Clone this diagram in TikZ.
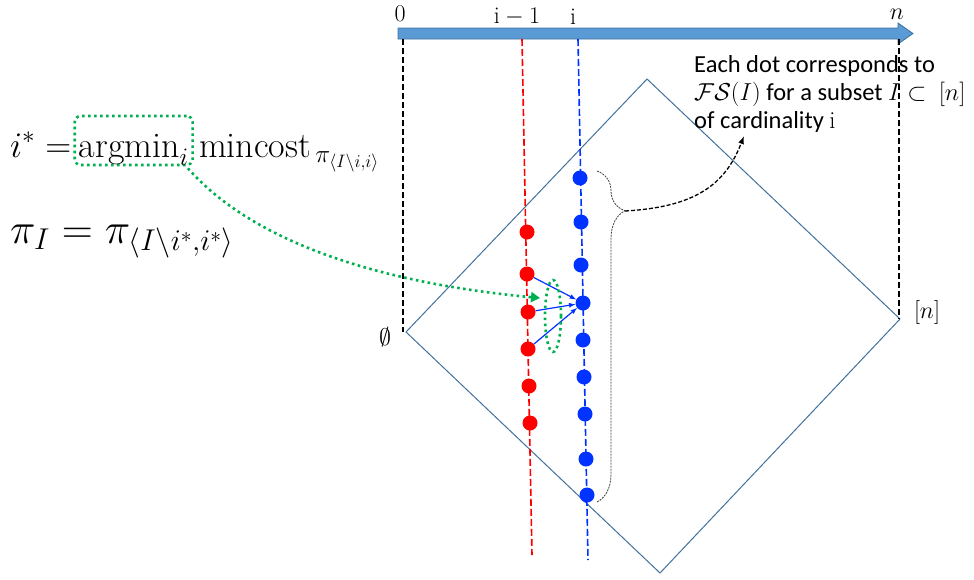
\RequirePackage{fix-cm}
\documentclass[tikz,border=0pt]{standalone}
\usepackage{amsmath}
\usepackage{fontspec}
\newfontfamily\calibri{Carlito}
\usetikzlibrary{calc}
\usetikzlibrary{arrows.meta}
\usetikzlibrary{decorations.pathreplacing}
\definecolor{barblue}{HTML}{5B9BD5}
\definecolor{barline}{HTML}{41719C}
\definecolor{dotred}{HTML}{FF0000}
\definecolor{dotblue}{HTML}{0033FF}
\definecolor{dotgreen}{HTML}{00B050}

\begin{document}
\begin{tikzpicture}[x=1pt, y=-1pt,
        reddot/.style={circle, fill=dotred, inner sep=0pt, minimum size=15pt},
        bluedot/.style={circle, fill=dotblue, inner sep=0pt, minimum size=15pt},
        level/.style={line width=1.6pt, dash pattern=on 7pt off 3pt},
        bound/.style={black, line width=1.6pt, dash pattern=on 6pt off 3pt},
        paths/.style={->, dotblue, line width=1.2pt, -latex},
        greendots/.style={dotgreen, line width=2.6pt, dash pattern=on 2.6pt off 3.4pt},
        formula/.style={inner sep=0pt, font=\fontsize{36}{42}\selectfont},
        bigformula/.style={inner sep=0pt, font=\fontsize{43}{50}\selectfont},
        tick/.style={inner sep=0pt, font=\fontsize{24}{28}\selectfont}
    ]
    \useasboundingbox (0,0) rectangle (974,579);

        % Time axis
        \filldraw[fill=barblue, draw=barline, line width=0.8pt] (398,28) -- (898,28) -- (898,23) -- (913,33.5) -- (898,44) -- (898,39) -- (398,39) -- cycle;
        \node[tick] (lab0) at (400,14) {$0$};
        \node[tick] (labprev) at (517,17) {$\mathrm{i}-1$};
        \node[tick] (labi) at (573,17) {$\mathrm{i}$};
        \node[tick] (labn) at (897,14) {$n$};

        % Lattice (diamond)
        \coordinate (empty) at (406,332);
        \coordinate (top) at (647,79);
        \coordinate (full) at (900,319);
        \coordinate (bottom) at (660,573);
        \draw[barline, line width=1pt] (empty) -- (top) -- (full) -- (bottom) -- cycle;
        \node[tick] (emptylab) at (385,337) {$\emptyset$};
        \node[tick] (fulllab) at (927,312) {$[n]$};

        \coordinate (t0) at (403,39);
        \coordinate (tn) at (899,39);
        \draw[bound] (t0) -- (t0 |- empty);
        \draw[bound] (tn) -- (tn |- full);

        % Levels i-1 and i
        \coordinate (prevtop) at (522,39);
        \coordinate (prevend) at (532,555);
        \coordinate (curtop) at (578,39);
        \coordinate (curend) at (588,560);
        \draw[level, dotred] (prevtop) -- (prevend);
        \draw[level, dotblue] (curtop) -- (curend);

        \node[reddot] (r1) at (527,232) {};
        \node[reddot] (r2) at (527,274) {};
        \node[reddot] (r3) at (528,312) {};
        \node[reddot] (r4) at (528,349) {};
        \node[reddot] (r5) at (529,386) {};
        \node[reddot] (r6) at (530,423) {};

        \node[bluedot] (b1) at (580,178) {};
        \node[bluedot] (b2) at (581,222) {};
        \node[bluedot] (b3) at (581,265) {};
        \node[bluedot] (b4) at (583,303) {};
        \node[bluedot] (b5) at (583,340) {};
        \node[bluedot] (b6) at (584,377) {};
        \node[bluedot] (b7) at (585,414) {};
        \node[bluedot] (b8) at (586,459) {};
        \node[bluedot] (b9) at (587,495) {};

        % Paths into the chosen dot
        \draw[paths] (r2) -- (b4);
        \draw[paths] (r3) -- (b4);
        \draw[paths] (r4) -- (b4);
        \draw[greendots] (553,316) ellipse [x radius=8, y radius=36];

        % Formulas
        \node[formula, anchor=base west] (istar) at (10,157) {$i^*=$};
        \node[formula, anchor=base west, greendots, draw, text=black, rounded corners=6pt,
            inner xsep=4pt, inner ysep=4pt, text height=37pt, text depth=4pt] (argmin) at ($(istar.base east)+(2,0)$) {$\mathrm{argmin}_i$};
        \node[formula, anchor=base west] (mincost) at ($(argmin.base east)+(5,0)$) {$\mathrm{mincost}_{\,\pi_{\langle I\setminus i,i\rangle}}$};
        \node[bigformula, anchor=base west] (piI) at (10,243) {$\pi_I=\pi_{\langle I\setminus i^*,i^*\rangle}$};

        \coordinate (ellend) at (540,298);
        \draw[greendots, -{Triangle[length=9pt,width=10pt]}] ($(argmin.south east)+(-6,2)$) .. controls (260,250) and (400,285) .. (ellend);

        % Brace and caption
        \draw[decorate, decoration={brace, amplitude=28pt, aspect=0.12}, black!75, line width=0.8pt, dash pattern=on 2pt off 1pt] (597,171) -- (597,502);
        \coordinate (bracetip) at (625,211);
        \node[anchor=north west, align=left, inner sep=0pt, font=\calibri\fontsize{24.5}{28}\selectfont] (caption) at (694,55) {Each dot corresponds to\\ $\mathcal{FS}(I)$ for a subset $I\subset\ [n]$\\ of cardinality $\mathrm{i}$};
        \coordinate (captarget) at (744,136);
        \draw[black, line width=1.3pt, dash pattern=on 4pt off 2pt, -{Latex[length=8pt]}] (bracetip) .. controls (695,207) and (725,185) .. (captarget);
\end{tikzpicture}
\end{document}
